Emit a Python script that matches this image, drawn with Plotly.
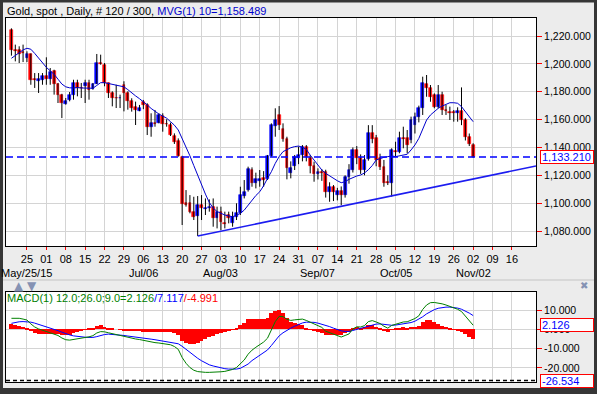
import plotly.graph_objects as go

# ---------------- data ----------------
opens = [1224.5, 1209.7, 1209.7, 1208.5, 1204.2, 1207.1, 1189.0, 1187.9, 1188.6, 1191.5,
         1189.4, 1194.6, 1185.8, 1177.9, 1171.2, 1174.3, 1177.9, 1186.3, 1183.0, 1183.9,
         1186.3, 1182.2, 1185.8, 1200.6, 1199.4, 1186.3, 1179.1, 1175.8, 1175.3, 1185.0,
         1179.1, 1173.6, 1169.3, 1166.4, 1172.9, 1170.5, 1154.9, 1157.8, 1157.8, 1162.6,
         1157.1, 1156.1, 1148.2, 1144.9, 1133.4, 1099.9, 1099.9, 1093.9, 1090.8, 1098.7,
         1095.6, 1096.3, 1097.5, 1089.1, 1093.9, 1086.0, 1091.5, 1085.5, 1089.8, 1092.7,
         1105.1, 1109.4, 1123.8, 1114.7, 1116.0, 1117.8, 1117.1, 1133.8, 1155.4, 1163.3,
         1153.0, 1145.8, 1122.0, 1126.7, 1132.2, 1134.6, 1140.1, 1132.2, 1126.7, 1120.9,
         1122.6, 1122.6, 1108.3, 1111.4, 1105.9, 1109.0, 1105.9, 1119.0, 1124.0, 1138.2,
         1132.2, 1123.8, 1132.0, 1150.6, 1146.5, 1132.2, 1126.2, 1115.0, 1114.2, 1137.5,
         1137.0, 1146.8, 1146.5, 1145.0, 1156.0, 1162.0, 1168.0, 1185.5, 1182.4, 1177.6,
         1169.3, 1177.6, 1167.2, 1165.6, 1165.2, 1164.5, 1166.2, 1159.7, 1147.7, 1141.5]
highs = [1225.5, 1213.8, 1212.6, 1213.8, 1209.0, 1207.5, 1193.4, 1193.4, 1193.4, 1204.7,
         1197.0, 1195.8, 1186.3, 1178.5, 1175.5, 1179.8, 1188.6, 1188.6, 1186.3, 1188.6,
         1188.6, 1186.3, 1207.1, 1206.6, 1200.6, 1186.5, 1180.3, 1185.0, 1177.9, 1187.5,
         1180.3, 1175.3, 1172.9, 1170.5, 1174.1, 1171.7, 1164.5, 1166.9, 1164.5, 1164.5,
         1160.2, 1157.8, 1150.1, 1146.5, 1134.0, 1109.4, 1105.8, 1104.6, 1105.1, 1105.8,
         1103.4, 1102.7, 1103.4, 1097.5, 1097.5, 1093.9, 1093.9, 1093.9, 1099.9, 1111.8,
         1116.6, 1126.2, 1125.7, 1121.9, 1123.8, 1123.0, 1134.6, 1157.3, 1168.1, 1169.7,
         1157.3, 1147.7, 1130.0, 1134.6, 1140.6, 1141.7, 1141.7, 1134.6, 1129.8, 1125.0,
         1124.5, 1124.0, 1115.0, 1113.0, 1111.0, 1112.0, 1120.0, 1128.0, 1140.0, 1141.0,
         1135.0, 1134.5, 1156.0, 1156.0, 1149.0, 1135.5, 1131.0, 1120.0, 1139.4, 1144.1,
         1151.3, 1154.9, 1152.5, 1162.1, 1165.0, 1170.0, 1190.8, 1192.0, 1184.8, 1178.8,
         1184.8, 1180.0, 1170.5, 1169.3, 1166.9, 1168.8, 1183.1, 1161.0, 1150.0, 1143.0]
lows = [1205.9, 1201.8, 1200.6, 1201.3, 1201.3, 1185.0, 1182.7, 1179.1, 1185.0, 1185.0,
        1185.0, 1177.9, 1171.9, 1161.1, 1170.7, 1173.1, 1174.3, 1176.7, 1175.5, 1171.9,
        1174.3, 1181.5, 1185.5, 1199.4, 1183.9, 1175.5, 1169.5, 1168.3, 1168.3, 1165.9,
        1167.1, 1165.7, 1156.1, 1166.0, 1167.5, 1148.9, 1147.7, 1154.9, 1157.3, 1151.3,
        1154.9, 1148.2, 1142.5, 1133.4, 1084.3, 1097.5, 1092.7, 1087.9, 1076.4, 1087.9,
        1091.5, 1093.9, 1083.1, 1081.9, 1080.7, 1081.9, 1085.5, 1083.1, 1087.9, 1091.5,
        1103.4, 1108.3, 1111.8, 1110.6, 1111.8, 1111.8, 1116.6, 1133.3, 1147.7, 1152.5,
        1144.1, 1117.1, 1117.8, 1123.8, 1128.0, 1130.0, 1130.0, 1121.4, 1115.4, 1117.0,
        1116.0, 1104.0, 1101.0, 1101.5, 1102.0, 1098.5, 1104.0, 1114.0, 1122.0, 1128.0,
        1121.0, 1120.0, 1130.5, 1143.0, 1126.5, 1123.8, 1111.8, 1113.0, 1104.7, 1133.4,
        1135.8, 1139.4, 1135.8, 1143.0, 1150.0, 1158.0, 1163.3, 1176.4, 1172.8, 1168.1,
        1168.1, 1163.3, 1163.3, 1159.7, 1158.5, 1158.5, 1156.0, 1145.0, 1141.0, 1132.5]
closes = [1209.7, 1209.0, 1207.1, 1208.0, 1207.1, 1188.6, 1188.5, 1189.4, 1191.0, 1189.1,
          1194.2, 1185.8, 1177.9, 1171.9, 1173.6, 1177.9, 1186.3, 1182.7, 1182.5, 1186.3,
          1181.5, 1185.5, 1200.6, 1200.1, 1186.3, 1179.1, 1175.5, 1175.3, 1175.8, 1179.1,
          1173.1, 1168.1, 1166.9, 1168.5, 1170.5, 1154.9, 1157.3, 1156.8, 1163.3, 1156.8,
          1156.6, 1148.9, 1144.1, 1133.8, 1099.4, 1098.9, 1093.9, 1090.3, 1098.7, 1096.3,
          1096.8, 1097.5, 1089.1, 1093.9, 1086.7, 1085.0, 1089.1, 1090.3, 1092.7, 1105.8,
          1108.3, 1124.3, 1114.7, 1117.1, 1117.0, 1116.6, 1133.8, 1156.1, 1159.7, 1156.1,
          1145.8, 1125.0, 1125.5, 1133.4, 1134.6, 1140.1, 1133.4, 1126.7, 1120.9, 1122.6,
          1121.5, 1108.3, 1111.4, 1108.3, 1109.0, 1105.9, 1119.0, 1124.0, 1138.2, 1132.2,
          1123.8, 1131.3, 1150.1, 1145.8, 1131.0, 1126.2, 1114.2, 1114.2, 1138.2, 1136.5,
          1146.5, 1146.2, 1141.7, 1159.7, 1162.1, 1168.1, 1186.0, 1182.4, 1176.4, 1169.3,
          1177.6, 1166.9, 1166.5, 1165.0, 1164.8, 1166.2, 1159.7, 1147.7, 1142.2, 1133.21]
ma10 = [1204.0, 1206.0, 1208.0, 1210.0, 1211.2, 1210.5, 1207.5, 1204.0, 1200.5, 1197.5,
        1195.0, 1192.5, 1189.0, 1185.5, 1183.5, 1182.8, 1182.7, 1183.0, 1182.7, 1182.5,
        1182.3, 1182.5, 1184.5, 1186.5, 1186.5, 1186.0, 1185.3, 1185.0, 1184.5, 1183.5,
        1181.5, 1179.0, 1177.0, 1175.0, 1173.0, 1170.5, 1168.0, 1165.8, 1164.0, 1162.5,
        1161.0, 1158.5, 1156.0, 1152.5, 1146.5, 1140.5, 1134.0, 1127.0, 1120.0, 1113.0,
        1106.5, 1100.5, 1096.5, 1094.0, 1092.7, 1091.5, 1090.8, 1090.3, 1091.3, 1092.7,
        1095.0, 1098.7, 1102.5, 1105.5, 1108.2, 1112.5, 1117.8, 1122.6, 1128.6, 1133.4,
        1137.0, 1138.6, 1139.8, 1140.6, 1141.0, 1140.1, 1138.6, 1134.5, 1131.0, 1127.4,
        1123.8, 1121.4, 1119.5, 1117.8, 1116.1, 1114.7, 1115.4, 1117.1, 1118.5, 1119.5,
        1120.2, 1121.7, 1124.0, 1127.0, 1131.0, 1132.2, 1132.9, 1133.4, 1133.9, 1133.4,
        1133.9, 1134.6, 1135.1, 1138.2, 1141.8, 1146.5, 1153.7, 1159.7, 1163.3, 1165.7,
        1168.1, 1169.7, 1171.2, 1172.1, 1172.1, 1171.7, 1169.3, 1165.7, 1162.1, 1158.489]
macd = [5.7, 5.8, 5.7, 5.3, 4.8, 2.8, 1.2, 0.2, -0.5, -1.2,
        -1.5, -2.2, -3.2, -4.5, -5.4, -5.6, -5.3, -5.1, -4.8, -4.4,
        -3.9, -3.3, -1.9, -1.2, -1.3, -1.8, -2.3, -2.8, -3.3, -3.8,
        -4.2, -4.6, -5.0, -5.3, -5.7, -6.3, -6.6, -6.9, -7.1, -7.4,
        -7.6, -8.0, -8.9, -10.4, -14.6, -17.6, -19.8, -21.2, -21.9, -22.2,
        -22.3, -22.3, -22.3, -22.2, -22.0, -21.8, -21.4, -20.8, -19.8, -18.0,
        -15.9, -12.9, -10.8, -9.3, -7.9, -6.6, -4.6, 0.0, 4.0, 6.7,
        6.6, 5.2, 4.6, 4.9, 5.1, 5.3, 4.6, 3.6, 2.6, 1.8,
        1.0, -1.0, -1.8, -2.6, -3.3, -4.0, -3.2, -2.4, 0.2, 1.3,
        1.2, 1.9, 4.0, 4.5, 3.8, 3.0, 1.6, 0.6, 2.0, 2.6,
        3.4, 3.8, 3.9, 4.6, 5.6, 7.0, 10.3, 12.6, 13.8, 13.9,
        13.7, 13.2, 12.6, 11.9, 11.2, 10.4, 9.2, 6.9, 4.6, 2.126]
signal = [3.1, 3.6, 3.9, 4.0, 4.0, 3.7, 3.2, 2.6, 1.9, 1.3,
          0.7, 0.0, -0.7, -1.5, -2.3, -2.9, -3.4, -3.7, -4.0, -4.1,
          -4.2, -4.2, -3.8, -3.2, -2.7, -2.5, -2.6, -2.8, -3.0, -3.2,
          -3.5, -3.7, -4.0, -4.2, -4.5, -4.8, -5.1, -5.4, -5.8, -6.1,
          -6.4, -6.7, -7.0, -7.5, -8.8, -10.4, -12.0, -13.4, -15.0, -16.3,
          -17.4, -18.4, -19.0, -19.6, -20.0, -20.4, -20.6, -20.7, -20.6, -20.2,
          -19.3, -18.0, -16.2, -14.8, -13.4, -12.1, -10.7, -8.4, -5.7, -3.4,
          -1.8, -0.5, 0.6, 1.6, 2.5, 3.3, 3.7, 3.8, 3.6, 3.2,
          2.7, 2.0, 1.4, 0.6, -0.2, -0.8, -1.1, -1.1, -0.6, 0.0,
          0.4, 0.8, 1.6, 2.3, 2.7, 2.8, 2.6, 2.2, 2.1, 2.2,
          2.5, 2.8, 3.1, 3.5, 4.2, 5.2, 6.5, 8.0, 9.2, 10.2,
          10.9, 11.3, 11.5, 11.5, 11.3, 11.0, 10.4, 9.5, 8.4, 7.117]
macd_floor = -26.534

# trend line drawn on the chart (bar index, price)
trend_x = [48, 135.2]
trend_y = [1076.4, 1126.7]

# x axis: weekly ticks (trading-day index of each Monday)
tick_pos = [4, 9, 14, 19, 24, 29, 34, 39, 44, 49, 54, 59, 64, 69, 74, 79, 84, 89, 94, 99,
            104, 109, 114, 119, 124, 129]
tick_labels = ["25", "01", "08", "15", "22", "29", "06", "13", "20", "27", "03", "10", "17",
               "24", "31", "07", "14", "21", "28", "05", "12", "19", "26", "02", "09", "16"]
month_pos = [4, 34, 54, 79, 99, 119]
month_labels = ["May/25/15", "Jul/06", "Aug/03", "Sep/07", "Oct/05", "Nov/02"]
price_ticks = [1080, 1100, 1120, 1140, 1160, 1180, 1200, 1220]
macd_ticks = [-20, -10, 0, 10]

# ---------------- figure ----------------
FONT = "Liberation Sans, Arial, sans-serif"
W, H = 597, 394
ML, MR, MT, MB = 6, 61, 18, 12
PW, PH = W - ML - MR, H - MT - MB


def px_x(p):
    return (p - ML) / PW


def px_y(p):
    return (H - MB - p) / PH


idx = list(range(len(closes)))
UP, DOWN = "#0000ff", "#ff0000"

fig = go.Figure()

# wicks
wx, wy = [], []
for i, (h, l) in enumerate(zip(highs, lows)):
    wx += [i, i, None]
    wy += [l, h, None]
fig.add_trace(go.Scatter(x=wx, y=wy, mode="lines", line=dict(color="black", width=1),
                         hoverinfo="skip", showlegend=False, xaxis="x", yaxis="y"))
# bodies
base = [min(o, c) for o, c in zip(opens, closes)]
body = [abs(c - o) for o, c in zip(opens, closes)]
cols = [UP if c >= o else DOWN for o, c in zip(opens, closes)]
fig.add_trace(go.Bar(x=idx, y=body, base=base, width=0.72,
                     marker=dict(color=cols, line=dict(color=cols, width=0.6)),
                     hoverinfo="skip", showlegend=False, xaxis="x", yaxis="y"))
# moving average
fig.add_trace(go.Scatter(x=idx, y=ma10, mode="lines", line=dict(color="#0000cc", width=1),
                         hoverinfo="skip", showlegend=False, xaxis="x", yaxis="y"))
# trend line
fig.add_trace(go.Scatter(x=trend_x, y=trend_y, mode="lines", line=dict(color="#1c1cf0", width=1.6),
                         hoverinfo="skip", showlegend=False, xaxis="x", yaxis="y"))

# MACD panel
hist = [m - s for m, s in zip(macd, signal)]
fig.add_trace(go.Bar(x=idx, y=hist, width=1.0, marker=dict(color="#ff0000", line=dict(width=0)),
                     hoverinfo="skip", showlegend=False, xaxis="x2", yaxis="y2"))
fig.add_trace(go.Scatter(x=idx, y=signal, mode="lines", line=dict(color="#0000ff", width=1),
                         hoverinfo="skip", showlegend=False, xaxis="x2", yaxis="y2"))
fig.add_trace(go.Scatter(x=idx, y=macd, mode="lines", line=dict(color="#008000", width=1),
                         hoverinfo="skip", showlegend=False, xaxis="x2", yaxis="y2"))

GRID = "#d4d4d4"
main_bottom = px_y(246)
macd_top = px_y(292)
TICKFONT = dict(size=10.5, color="black", family=FONT)

fig.update_layout(
    width=W, height=H,
    margin=dict(l=ML, r=MR, t=MT, b=MB, pad=0),
    paper_bgcolor="#ececec", plot_bgcolor="white",
    barmode="overlay", bargap=0, hovermode=False,
    font=dict(family=FONT, size=11, color="black"),
    xaxis=dict(domain=[0, 1], anchor="y", range=[-1.4, 135.2], tickmode="array",
               tickvals=tick_pos, ticktext=tick_labels, showgrid=True, gridcolor=GRID, gridwidth=1,
               ticks="outside", tickcolor="#ff0000", ticklen=3, tickwidth=1,
               tickfont=dict(size=11, color="black", family=FONT),
               showline=True, linecolor="black", linewidth=1, mirror=True, zeroline=False),
    xaxis2=dict(domain=[0, 1], anchor="y2", matches="x", tickmode="array", tickvals=tick_pos,
                showticklabels=False, ticks="", showgrid=True, gridcolor=GRID, gridwidth=1,
                showline=True, linecolor="black", linewidth=1, mirror=True, zeroline=False),
    yaxis=dict(domain=[main_bottom, 1], anchor="x", side="right", range=[1069.25, 1232.92],
               tickmode="array", tickvals=price_ticks, ticktext=[f"{v:,.3f}" for v in price_ticks],
               showgrid=True, gridcolor=GRID, gridwidth=1, ticks="outside", tickcolor="#ff0000",
               ticklen=5, tickwidth=1, tickfont=TICKFONT,
               showline=True, linecolor="black", linewidth=1, mirror=True, zeroline=False),
    yaxis2=dict(domain=[0, macd_top], anchor="x2", side="right", range=[-27.3, 19.33],
                tickmode="array", tickvals=macd_ticks, ticktext=[f"{v:.3f}" for v in macd_ticks],
                showgrid=True, gridcolor=GRID, gridwidth=1, ticks="outside", tickcolor="#ff0000",
                ticklen=5, tickwidth=1, tickfont=TICKFONT,
                showline=True, linecolor="black", linewidth=1, mirror=True, zeroline=False),
)

shapes = [
    # last price dashed line
    dict(type="line", xref="paper", yref="y", x0=0, x1=1, y0=closes[-1], y1=closes[-1],
         line=dict(color="#0000ff", width=1.5, dash="7px,4px")),
    # MACD floor dashed line
    dict(type="line", xref="paper", yref="y2", x0=0, x1=1, y0=macd_floor, y1=macd_floor,
         line=dict(color="black", width=1.5, dash="4px,3px")),
    # divider between panes
    dict(type="line", xref="paper", yref="paper", x0=px_x(3), x1=px_x(594), y0=px_y(280), y1=px_y(280),
         line=dict(color="#c4c4c4", width=1)),
    # dark outer frame
    dict(type="rect", xref="paper", yref="paper", x0=px_x(0), x1=px_x(3), y0=px_y(H), y1=px_y(0),
         fillcolor="#363636", line=dict(width=0), layer="above"),
    dict(type="rect", xref="paper", yref="paper", x0=px_x(594), x1=px_x(W), y0=px_y(H), y1=px_y(0),
         fillcolor="#363636", line=dict(width=0), layer="above"),
    dict(type="rect", xref="paper", yref="paper", x0=px_x(0), x1=px_x(W), y0=px_y(2.5), y1=px_y(0),
         fillcolor="#363636", line=dict(width=0), layer="above"),
    dict(type="rect", xref="paper", yref="paper", x0=px_x(0), x1=px_x(W), y0=px_y(H), y1=px_y(388),
         fillcolor="#363636", line=dict(width=0), layer="above"),
]

BOX = dict(bgcolor="white", bordercolor="#ff0000", borderwidth=1, borderpad=1, width=50, height=10,
           align="left", xanchor="left", yanchor="middle", showarrow=False,
           font=dict(size=11, color="#0000ff", family=FONT))

annotations = [
    dict(xref="paper", yref="paper", x=px_x(5), y=px_y(11), xanchor="left", yanchor="middle",
         showarrow=False, font=dict(size=11, color="black", family=FONT),
         text=f'Gold, spot , Daily, # {len(closes)} / 300, '
              f'<span style="color:#0000cc">MVG(1) 10={ma10[-1]:,.3f}</span>'),
    dict(xref="paper", yref="paper", x=px_x(5), y=px_y(297.5), xanchor="left", yanchor="middle",
         showarrow=False, font=dict(size=11, color="#008000", family=FONT),
         text=f'MACD(1) 12.0;26.0;9.0={macd[-1]:.3f}'
              f'<span style="color:#0000ff">/{signal[-1]:.3f}</span>'
              f'<span style="color:#ff0000">/{hist[-1]:.3f}</span>'),
    dict(xref="paper", yref="y", x=px_x(539.5), y=closes[-1], text=f"{closes[-1]:,.3f}", **BOX),
    dict(xref="paper", yref="y2", x=px_x(539.5), y=macd[-1], text=f"{macd[-1]:.3f}", **BOX),
    dict(xref="paper", yref="y2", x=px_x(539.5), y=macd_floor, text=f"{macd_floor:.3f}", **BOX),
    dict(xref="paper", yref="paper", x=px_x(12), y=px_y(285.5), xanchor="left", yanchor="middle",
         showarrow=False, text="\u25b2", font=dict(size=12, color="#8592b3", family="DejaVu Sans")),
    dict(xref="paper", yref="paper", x=px_x(25), y=px_y(285.5), xanchor="left", yanchor="middle",
         showarrow=False, text="\u25bc", font=dict(size=12, color="#8592b3", family="DejaVu Sans")),
    dict(xref="paper", yref="paper", x=px_x(584), y=px_y(285.5), xanchor="center", yanchor="middle",
         showarrow=False, text="\u2716", font=dict(size=10, color="#8592b3", family="DejaVu Sans")),
]
for pos, lab in zip(month_pos, month_labels):
    annotations.append(dict(xref="x", yref="paper", x=pos, y=px_y(272.5), xanchor="center",
                            yanchor="middle", showarrow=False, text=lab,
                            font=dict(size=11, color="black", family=FONT)))

fig.update_layout(shapes=shapes, annotations=annotations)
fig.write_html("out.html", config={"displayModeBar": False},
               post_script="document.body.style.margin='0';document.body.style.overflow='hidden';")
